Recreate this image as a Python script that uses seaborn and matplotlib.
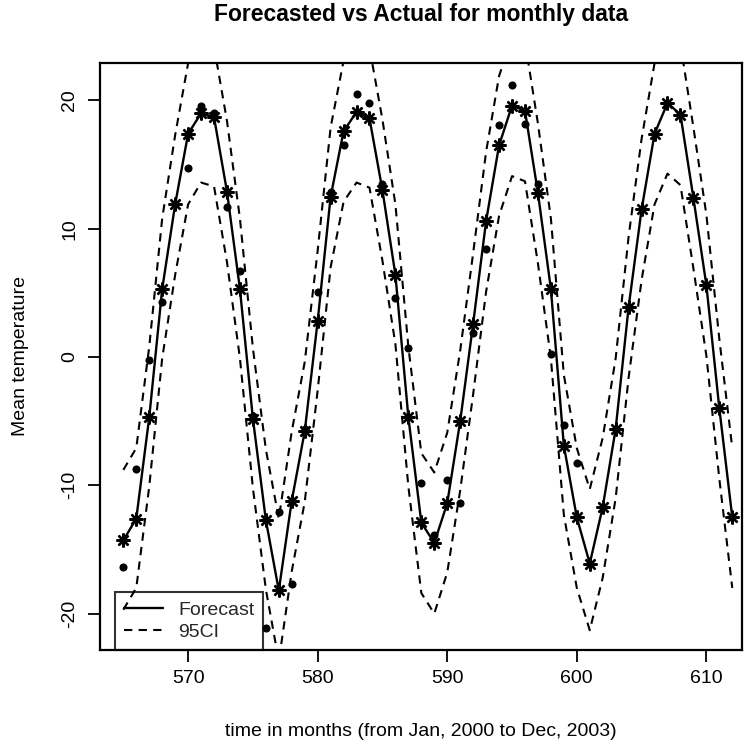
import matplotlib
matplotlib.use("Agg")
import matplotlib.pyplot as plt
from matplotlib.lines import Line2D
import pandas as pd
import seaborn as sns

# Months 565..612 (Jan 2000 onwards, counted from the series start)
months = list(range(565, 613))

# Forecast (model fit + projection)
forecast = [-14.3, -12.6, -4.7, 5.3, 11.9, 17.4, 19.0, 18.7, 12.9, 5.3, -4.8, -12.7,
            -18.2, -11.2, -5.8, 2.8, 12.5, 17.6, 19.1, 18.6, 13.0, 6.4, -4.7, -12.9,
            -14.5, -11.4, -5.0, 2.6, 10.6, 16.5, 19.6, 19.2, 12.8, 5.3, -6.9, -12.5,
            -16.1, -11.7, -5.6, 3.9, 11.5, 17.4, 19.8, 18.9, 12.4, 5.6, -4.0, -12.5]

# 95% confidence band
ci_lower = [-19.7, -18.0, -10.1, -0.1, 6.4, 11.9, 13.6, 13.3, 7.4, -0.1, -10.2, -18.1,
            -23.7, -16.7, -11.3, -2.6, 7.0, 12.1, 13.6, 13.2, 7.5, 1.0, -10.1, -18.4,
            -20.0, -16.8, -10.4, -2.9, 5.1, 11.0, 14.1, 13.7, 7.3, -0.1, -12.3, -18.0,
            -21.3, -17.2, -11.0, -1.6, 6.0, 11.9, 14.3, 13.4, 6.9, 0.1, -9.5, -18.0]
ci_upper = [-8.8, -7.1, 0.8, 10.8, 17.3, 22.9, 24.5, 24.2, 18.4, 10.8, 0.7, -7.2,
            -12.6, -5.8, -0.4, 8.3, 17.9, 23.1, 24.5, 24.1, 18.5, 11.9, 0.8, -7.5,
            -9.0, -5.9, 0.5, 8.1, 16.0, 21.9, 25.0, 24.6, 18.2, 10.8, -1.4, -7.1,
            -10.3, -6.3, -0.1, 9.4, 17.0, 22.9, 25.3, 24.4, 17.9, 11.1, 1.4, -7.1]

# Observed monthly mean temperature
actual_months = list(range(565, 601))
actual = [-16.4, -8.7, -0.2, 4.3, 11.9, 14.7, 19.6, 19.0, 11.7, 6.7, -4.6, -21.1,
          -12.1, -17.7, -5.6, 5.1, 12.9, 16.5, 20.5, 19.8, 13.5, 4.6, 0.7, -9.8,
          -13.9, -9.6, -11.4, 1.9, 8.4, 18.1, 21.2, 18.2, 13.5, 0.2, -5.3, -8.3]

x_ticks = [570, 580, 590, 600, 610]
y_ticks = [-20, -10, 0, 10, 20]

title = "Forecasted vs Actual for monthly data"
x_label = "time in months (from Jan, 2000 to Dec, 2003)"
y_label = "Mean temperature"
legend_labels = ["Forecast", "95CI"]

sns.set_theme(style="white")
plt.rcParams["font.family"] = ["Liberation Sans", "DejaVu Sans"]
plt.rcParams["axes.unicode_minus"] = False

fc = pd.DataFrame({"month": months, "forecast": forecast,
                   "lower": ci_lower, "upper": ci_upper})
obs = pd.DataFrame({"month": actual_months, "actual": actual})

W, H = 749, 743
fig = plt.figure(figsize=(W / 100, H / 100), dpi=100)
fig.patch.set_facecolor("white")
left, right, top, bottom = 100, 742, 63, 650
ax = fig.add_axes([left / W, 1 - bottom / H, (right - left) / W, (bottom - top) / H])
ax.set_facecolor("white")

dash = (4, 3)
sns.lineplot(data=fc, x="month", y="lower", ax=ax, color="black", lw=1.5,
             dashes=False, linestyle=(0, dash))
sns.lineplot(data=fc, x="month", y="upper", ax=ax, color="black", lw=1.5,
             dashes=False, linestyle=(0, dash))
sns.lineplot(data=fc, x="month", y="forecast", ax=ax, color="black", lw=1.7,
             marker=(8, 2, 0), markersize=10, markeredgewidth=1.7,
             markeredgecolor="black")
sns.scatterplot(data=obs, x="month", y="actual", ax=ax, color="black",
                s=34, edgecolor="black", linewidth=0, zorder=4)

ax.set_xlim(563.2, 612.75)
ax.set_ylim(-22.84, 22.92)
ax.set_xticks(x_ticks)
ax.set_yticks(y_ticks)
ax.set_xticklabels([str(v) for v in x_ticks])
ax.set_yticklabels([str(v) for v in y_ticks], rotation=90, va="center")
ax.tick_params(axis="both", which="major", direction="out", length=8.6, width=1.3,
               color="black", labelsize=14, labelcolor="black", bottom=True, left=True)
ax.tick_params(axis="x", pad=6)
ax.tick_params(axis="y", pad=7)
ax.set_xlabel("")
ax.set_ylabel("")
for s in ax.spines.values():
    s.set_visible(True)
    s.set_color("black")
    s.set_linewidth(1.6)

handles = [Line2D([], [], color="black", lw=1.7),
           Line2D([], [], color="black", lw=1.5, linestyle=(0, dash))]
leg = ax.legend(handles, legend_labels, loc="lower left",
                bbox_to_anchor=((115 - left) / (right - left), 0.0),
                borderaxespad=0, fontsize=14, handlelength=2.0, handletextpad=0.8,
                borderpad=0.45, labelspacing=0.25, fancybox=False, frameon=True)
leg.get_frame().set_edgecolor("black")
leg.get_frame().set_linewidth(1.5)
leg.get_frame().set_facecolor("none")

cx = (left + right) / 2 / W
fig.text(cx, 1 - 15 / H, title, ha="center", va="center", fontsize=16.5,
         fontweight="bold", color="black")
fig.text(cx, 1 - 731 / H, x_label, ha="center", va="center", fontsize=14,
         color="black")
fig.text(21 / W, 1 - 356.5 / H, y_label, ha="center", va="center", rotation=90,
         fontsize=14, color="black")

fig.savefig("out.png", dpi=100, facecolor="white")
